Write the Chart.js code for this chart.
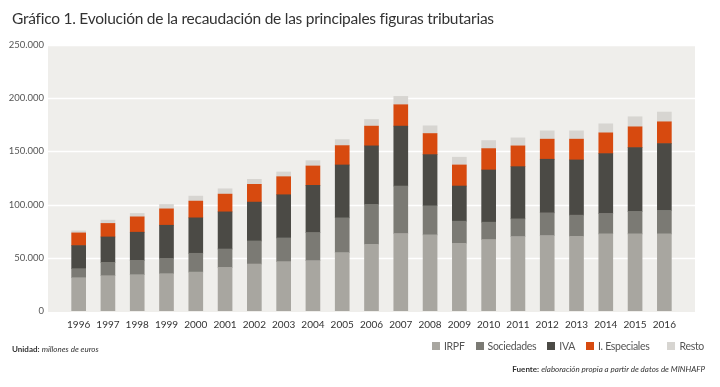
<!DOCTYPE html>
<html>
<head>
<meta charset="utf-8">
<script src="https://cdn.jsdelivr.net/npm/chart.js@4.4.0/dist/chart.umd.min.js"></script>
<style>
  html,body{margin:0;padding:0;background:#fff;}
  #wrap{position:relative;width:720px;height:387px;overflow:hidden;font-family:Lato,"Open Sans",sans-serif;}
  #c{position:absolute;left:0;top:0;}
  #title{position:absolute;left:12px;top:9px;font-size:15.5px;color:#333;white-space:nowrap;letter-spacing:-0.25px;}
  #unidad{position:absolute;left:12px;top:344px;font-size:8px;color:#333;white-space:nowrap;}
  #fuente{position:absolute;right:15px;top:364px;font-size:8px;color:#333;white-space:nowrap;}
  #legend{position:absolute;right:16px;top:340px;display:flex;align-items:center;font-size:10.5px;color:#555;white-space:nowrap;letter-spacing:-0.3px;}
  #legend .it{display:flex;align-items:center;margin-left:11px;}
  #legend .it:last-child{margin-left:18px;}
  #legend .sw{width:8px;height:8px;margin-right:4px;}
</style>
</head>
<body>
<div id="wrap">
  <canvas id="c" width="720" height="387"></canvas>
  <div id="title">Gráfico 1. Evolución de la recaudación de las principales figuras tributarias</div>
  <div id="unidad"><b>Unidad:</b> <i>millones de euros</i></div>
  <div id="legend"></div>
  <div id="fuente"><b>Fuente:</b> <i>elaboración propia a partir de datos de MINHAFP</i></div>
</div>
<script>
const years = ["1996","1997","1998","1999","2000","2001","2002","2003","2004","2005","2006","2007","2008","2009","2010","2011","2012","2013","2014","2015","2016"];
const seriesNames = ["IRPF","Sociedades","IVA","I. Especiales","Resto"];
const irpf       = [31300,33200,34150,35100,36600,41000,44150,46400,47360,54900,62740,72830,71510,63680,67170,70000,70940,70280,72450,72450,72450];
const sociedades = [8500,12500,13500,14400,17650,17260,21700,22280,26400,32650,37450,44620,27360,20750,16320,16600,21320,19810,19250,21130,22080];
const iva        = [21700,23900,26400,31100,33300,34900,36500,40570,44350,49700,55000,56320,48110,33020,49060,49060,50380,51890,56220,60000,62830];
const especiales = [11900,12700,14450,15400,15750,16700,16700,16980,18200,18200,18580,20100,19810,19810,20090,19530,18870,19530,19530,19530,20470];
const resto      = [1900,3100,3200,4150,4700,5000,4700,4430,5000,5650,6230,7830,7270,7270,7550,7550,7830,7830,8490,9440,9150];
const yTicks = [0,50000,100000,150000,200000,250000];

const colors = ["#a8a6a0","#7b7a74","#4b4a45","#d74a0f","#d7d5d1"];
const seriesData = [irpf, sociedades, iva, especiales, resto];

const panelPlugin = {
  id: 'panel',
  beforeDraw(chart) {
    const ctx = chart.ctx, a = chart.chartArea, ys = chart.scales.y;
    const left = a.left - 16, right = a.right + 16;
    ctx.save();
    ctx.fillStyle = '#efeeeb';
    ctx.fillRect(left, a.top, right - left, a.bottom - a.top + 1);
    ctx.strokeStyle = '#ffffff';
    ctx.lineWidth = 1.5;
    yTicks.forEach(v => {
      if (v === 0) return;
      const y = Math.round(ys.getPixelForValue(v)) + 0.5;
      ctx.beginPath(); ctx.moveTo(left, y); ctx.lineTo(right, y); ctx.stroke();
    });
    ctx.restore();
  }
};

const fmt = v => v === 0 ? '0' : String(v).replace(/\B(?=(\d{3})+(?!\d))/g, '.');

new Chart(document.getElementById('c'), {
  type: 'bar',
  data: {
    labels: years,
    datasets: seriesNames.map((n, i) => ({
      label: n,
      data: seriesData[i],
      backgroundColor: colors[i],
      borderWidth: 0,
      barThickness: 14
    }))
  },
  options: {
    responsive: false,
    animation: false,
    layout: { padding: { top: 45, right: 41, left: 0, bottom: 0 } },
    plugins: { legend: { display: false }, tooltip: { enabled: false } },
    scales: {
      x: {
        stacked: true,
        grid: { display: false, drawTicks: false },
        border: { display: false },
        ticks: { color: '#333', font: { family: 'Lato', size: 10 }, padding: 8, maxRotation: 0, autoSkip: false },
        afterFit(s) { s.height = 76; }
      },
      y: {
        stacked: true,
        min: 0, max: 250000,
        grid: { display: false, drawTicks: false },
        border: { display: false },
        afterBuildTicks(s) { s.ticks = yTicks.map(v => ({ value: v })); },
        ticks: { color: '#555', font: { family: 'Lato', size: 9.5 }, padding: 20, callback: v => fmt(v) },
        afterFit(s) { s.width = 64; }
      }
    }
  },
  plugins: [panelPlugin]
});

const lg = document.getElementById('legend');
seriesNames.forEach((n, i) => {
  const it = document.createElement('div'); it.className = 'it';
  const sw = document.createElement('div'); sw.className = 'sw'; sw.style.background = colors[i];
  const tx = document.createElement('span'); tx.textContent = n;
  it.appendChild(sw); it.appendChild(tx); lg.appendChild(it);
});
</script>
</body>
</html>
